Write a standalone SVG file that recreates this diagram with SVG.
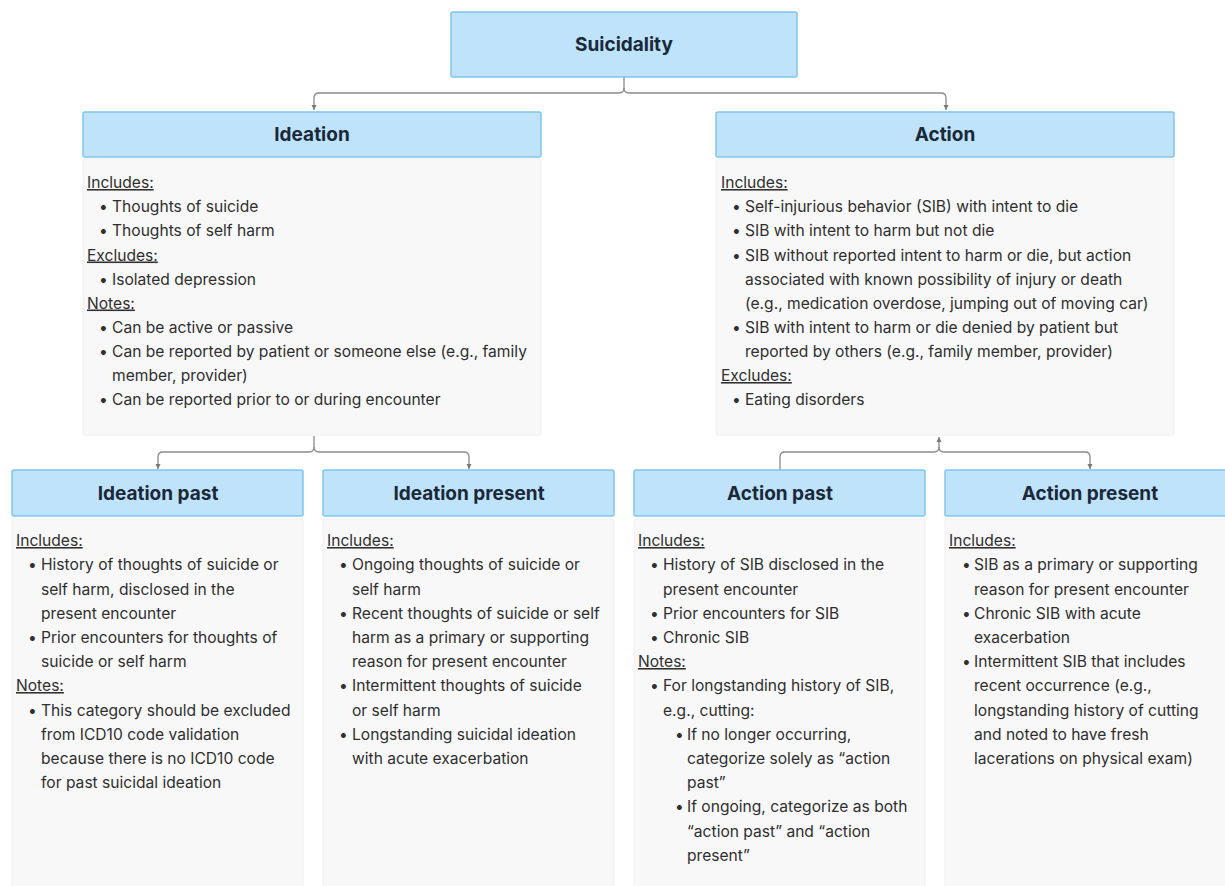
<svg xmlns="http://www.w3.org/2000/svg" width="1225" height="886" viewBox="0 0 1225 886">
<style>
.hdr{fill:#bee3fb;stroke:#7fc5ee;stroke-width:1.5}
.body{fill:#f8f8f8;stroke:#f0f0f0;stroke-width:1}
.ttl{font-family:Inter,"Liberation Sans",sans-serif;font-weight:700;font-size:19px;fill:#1b2838;text-anchor:middle}
.t{font-family:Inter,"Liberation Sans",sans-serif;font-size:15.6px;fill:#2f2f2f}
.u{text-decoration:underline}
.conn{fill:none;stroke:#8a8a8a;stroke-width:1.3}
</style>
<defs>
<marker id="ah" viewBox="0 0 6 6" refX="5" refY="3" markerWidth="6" markerHeight="6" orient="auto" markerUnits="userSpaceOnUse">
<path d="M0,0.5 L5,3 L0,5.5 Z" fill="#777"/>
</marker>
</defs>
<rect width="1225" height="886" fill="#ffffff"/>

<g id="connectors">
<path class="conn" d="M624,77 V88 Q624,93 619,93 H319 Q314,93 314,98 V110" marker-end="url(#ah)"/>
<path class="conn" d="M624,88 Q624,93 629,93 H941 Q946,93 946,98 V110" marker-end="url(#ah)"/>
<path class="conn" d="M314,436 V447 Q314,452 309,452 H163 Q158,452 158,457 V469" marker-end="url(#ah)"/>
<path class="conn" d="M314,447 Q314,452 319,452 H464 Q469,452 469,457 V469" marker-end="url(#ah)"/>
<path class="conn" d="M939,447 V437" marker-end="url(#ah)"/>
<path class="conn" d="M939,447 Q939,452 934,452 H785 Q780,452 780,457 V470"/>
<path class="conn" d="M939,447 Q939,452 944,452 H1085 Q1090,452 1090,457 V469" marker-end="url(#ah)"/>
</g>

<g id="suicidality">
<rect class="hdr" x="451" y="12" width="346" height="65" rx="2"/>
<text class="ttl" x="624" y="51">Suicidality</text>
</g>

<g id="ideation">
<rect class="hdr" x="83" y="112" width="458" height="45" rx="2"/>
<text class="ttl" x="312" y="141">Ideation</text>
<rect class="body" x="83" y="159" width="458" height="276" rx="2"/>
<text class="t u" x="87" y="188">Includes:</text>
<text class="t" x="99" y="212">•</text><text class="t" x="112" y="212">Thoughts of suicide</text>
<text class="t" x="99" y="236">•</text><text class="t" x="112" y="236">Thoughts of self harm</text>
<text class="t u" x="87" y="260.5">Excludes:</text>
<text class="t" x="99" y="284.5">•</text><text class="t" x="112" y="284.5">Isolated depression</text>
<text class="t u" x="87" y="308.5">Notes:</text>
<text class="t" x="99" y="333">•</text><text class="t" x="112" y="333">Can be active or passive</text>
<text class="t" x="99" y="357">•</text><text class="t" x="112" y="357">Can be reported by patient or someone else (e.g., family</text>
<text class="t" x="112" y="381">member, provider)</text>
<text class="t" x="99" y="405">•</text><text class="t" x="112" y="405">Can be reported prior to or during encounter</text>
</g>

<g id="action">
<rect class="hdr" x="716" y="112" width="458" height="45" rx="2"/>
<text class="ttl" x="945" y="141">Action</text>
<rect class="body" x="716" y="159" width="458" height="276" rx="2"/>
<text class="t u" x="721" y="188">Includes:</text>
<text class="t" x="732" y="212">•</text><text class="t" x="745" y="212">Self-injurious behavior (SIB) with intent to die</text>
<text class="t" x="732" y="236">•</text><text class="t" x="745" y="236">SIB with intent to harm but not die</text>
<text class="t" x="732" y="260.5">•</text><text class="t" x="745" y="260.5">SIB without reported intent to harm or die, but action</text>
<text class="t" x="745" y="284.5">associated with known possibility of injury or death</text>
<text class="t" x="745" y="308.5">(e.g., medication overdose, jumping out of moving car)</text>
<text class="t" x="732" y="333">•</text><text class="t" x="745" y="333">SIB with intent to harm or die denied by patient but</text>
<text class="t" x="745" y="357">reported by others (e.g., family member, provider)</text>
<text class="t u" x="721" y="381">Excludes:</text>
<text class="t" x="732" y="405">•</text><text class="t" x="745" y="405">Eating disorders</text>
</g>

<g id="ideation-past">
<rect class="hdr" x="12" y="470" width="291" height="46" rx="2"/>
<text class="ttl" x="158" y="500">Ideation past</text>
<rect class="body" x="12" y="519" width="291" height="380" rx="2"/>
<text class="t u" x="16" y="546">Includes:</text>
<text class="t" x="28" y="570">•</text><text class="t" x="41" y="570">History of thoughts of suicide or</text>
<text class="t" x="41" y="594.5">self harm, disclosed in the</text>
<text class="t" x="41" y="618.5">present encounter</text>
<text class="t" x="28" y="643">•</text><text class="t" x="41" y="643">Prior encounters for thoughts of</text>
<text class="t" x="41" y="667">suicide or self harm</text>
<text class="t u" x="16" y="691">Notes:</text>
<text class="t" x="28" y="715.5">•</text><text class="t" x="41" y="715.5">This category should be excluded</text>
<text class="t" x="41" y="739.5">from ICD10 code validation</text>
<text class="t" x="41" y="764">because there is no ICD10 code</text>
<text class="t" x="41" y="788">for past suicidal ideation</text>
</g>

<g id="ideation-present">
<rect class="hdr" x="323" y="470" width="291" height="46" rx="2"/>
<text class="ttl" x="469" y="500">Ideation present</text>
<rect class="body" x="323" y="519" width="291" height="380" rx="2"/>
<text class="t u" x="327" y="546">Includes:</text>
<text class="t" x="339" y="570">•</text><text class="t" x="352" y="570">Ongoing thoughts of suicide or</text>
<text class="t" x="352" y="594.5">self harm</text>
<text class="t" x="339" y="618.5">•</text><text class="t" x="352" y="618.5">Recent thoughts of suicide or self</text>
<text class="t" x="352" y="643">harm as a primary or supporting</text>
<text class="t" x="352" y="667">reason for present encounter</text>
<text class="t" x="339" y="691">•</text><text class="t" x="352" y="691">Intermittent thoughts of suicide</text>
<text class="t" x="352" y="715.5">or self harm</text>
<text class="t" x="339" y="739.5">•</text><text class="t" x="352" y="739.5">Longstanding suicidal ideation</text>
<text class="t" x="352" y="764">with acute exacerbation</text>
</g>

<g id="action-past">
<rect class="hdr" x="634" y="470" width="291" height="46" rx="2"/>
<text class="ttl" x="780" y="500">Action past</text>
<rect class="body" x="634" y="519" width="291" height="380" rx="2"/>
<text class="t u" x="638" y="546">Includes:</text>
<text class="t" x="650" y="570">•</text><text class="t" x="663" y="570">History of SIB disclosed in the</text>
<text class="t" x="663" y="594.5">present encounter</text>
<text class="t" x="650" y="618.5">•</text><text class="t" x="663" y="618.5">Prior encounters for SIB</text>
<text class="t" x="650" y="643">•</text><text class="t" x="663" y="643">Chronic SIB</text>
<text class="t u" x="638" y="667">Notes:</text>
<text class="t" x="650" y="691">•</text><text class="t" x="663" y="691">For longstanding history of SIB,</text>
<text class="t" x="663" y="715.5">e.g., cutting:</text>
<text class="t" x="675" y="739.5">•</text><text class="t" x="687" y="739.5">If no longer occurring,</text>
<text class="t" x="687" y="764">categorize solely as “action</text>
<text class="t" x="687" y="788">past”</text>
<text class="t" x="675" y="812">•</text><text class="t" x="687" y="812">If ongoing, categorize as both</text>
<text class="t" x="687" y="836.5">“action past” and “action</text>
<text class="t" x="687" y="860.5">present”</text>
</g>

<g id="action-present">
<rect class="hdr" x="945" y="470" width="291" height="46" rx="2"/>
<text class="ttl" x="1090" y="500">Action present</text>
<rect class="body" x="945" y="519" width="291" height="380" rx="2"/>
<text class="t u" x="949" y="546">Includes:</text>
<text class="t" x="962" y="570">•</text><text class="t" x="974" y="570">SIB as a primary or supporting</text>
<text class="t" x="974" y="594.5">reason for present encounter</text>
<text class="t" x="962" y="618.5">•</text><text class="t" x="974" y="618.5">Chronic SIB with acute</text>
<text class="t" x="974" y="643">exacerbation</text>
<text class="t" x="962" y="667">•</text><text class="t" x="974" y="667">Intermittent SIB that includes</text>
<text class="t" x="974" y="691">recent occurrence (e.g.,</text>
<text class="t" x="974" y="715.5">longstanding history of cutting</text>
<text class="t" x="974" y="739.5">and noted to have fresh</text>
<text class="t" x="974" y="764">lacerations on physical exam)</text>
</g>
</svg>
